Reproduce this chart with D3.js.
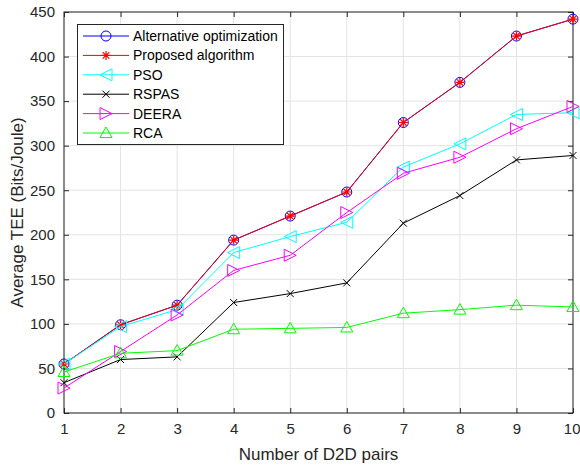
<!DOCTYPE html>
<html><head><meta charset="utf-8">
<script src="https://cdn.jsdelivr.net/npm/d3@7"></script>
<style>body{margin:0;background:#fff}svg{display:block}text{font-family:"Liberation Sans",Arial,Helvetica,sans-serif}</style>
</head><body><svg id="c" width="580" height="465"></svg>
<script>
const xValues = [1,2,3,4,5,6,7,8,9,10];
const altOpt   = [55, 99, 121, 194, 221, 248, 326, 371, 423, 442];
const proposed = [55, 99, 121, 194, 221, 248, 326, 371, 423, 442];
const pso      = [55, 97, 116, 180, 198, 214, 276, 302, 335, 337];
const rspas    = [34, 60, 63, 124, 134, 146, 213, 244, 284, 289];
const deera    = [28, 69, 110, 160, 177, 225, 269, 287, 319, 344];
const rca      = [46, 67, 70, 94, 95, 96, 112, 116, 121, 119];
const yTicks = [0,50,100,150,200,250,300,350,400,450];
const seriesNames = ["Alternative optimization","Proposed algorithm","PSO","RSPAS","DEERA","RCA"];
const seriesData = [altOpt, proposed, pso, rspas, deera, rca];
const seriesColors = ["#0000ff","#ff0000","#00ffff","#000000","#ff00ff","#00ff00"];
const seriesMarkers = ["circle","asterisk","triLeft","cross","triRight","triUp"];

const svg = d3.select("#c");
const L=64, R=573, T=12, B=413;
const x = d3.scaleLinear().domain([1,10]).range([L,R]);
const y = d3.scaleLinear().domain([0,450]).range([B,T]);

// grid
const g = svg.append("g");
g.selectAll(".gx").data(xValues).enter().append("line")
  .attr("x1",d=>x(d)).attr("x2",d=>x(d)).attr("y1",T).attr("y2",B)
  .attr("stroke","#e3e3e3").attr("stroke-width",1);
g.selectAll(".gy").data(yTicks).enter().append("line")
  .attr("y1",d=>y(d)).attr("y2",d=>y(d)).attr("x1",L).attr("x2",R)
  .attr("stroke","#e3e3e3").attr("stroke-width",1);

// axes
const ax = svg.append("g").attr("transform",`translate(0,${B})`)
  .call(d3.axisBottom(x).tickValues(xValues).tickSize(-5).tickPadding(10).tickFormat(d3.format("d")));
const axT = svg.append("g").attr("transform",`translate(0,${T})`)
  .call(d3.axisTop(x).tickValues(xValues).tickSize(-5).tickFormat(""));
const ay = svg.append("g").attr("transform",`translate(${L},0)`)
  .call(d3.axisLeft(y).tickValues(yTicks).tickSize(-5).tickPadding(9));
const ayR = svg.append("g").attr("transform",`translate(${R},0)`)
  .call(d3.axisRight(y).tickValues(yTicks).tickSize(-5).tickFormat(""));
[ax,axT,ay,ayR].forEach(a=>{
  a.select(".domain").attr("stroke","#262626").attr("stroke-width",1);
  a.selectAll(".tick line").attr("stroke","#262626");
  a.selectAll("text").attr("fill","#262626").style("font-size","15px").style("font-family","'Liberation Sans',Arial,sans-serif");
});
// keep the last x tick label inside the window
ax.selectAll(".tick text").filter(d=>d===10).attr("text-anchor","end").attr("x",7);
svg.selectAll(".domain").remove();
svg.append("rect").attr("x",L).attr("y",T).attr("width",R-L).attr("height",B-T)
  .attr("fill","none").attr("stroke","#262626").attr("stroke-width",1);

svg.append("text").attr("x",(L+R)/2).attr("y",460).attr("text-anchor","middle")
  .attr("fill","#262626").style("font-size","17px").text("Number of D2D pairs");
svg.append("text").attr("transform",`translate(23,${(T+B)/2}) rotate(-90)`).attr("text-anchor","middle")
  .attr("fill","#262626").style("font-size","17px").text("Average TEE (Bits/Joule)");

function drawMarker(sel, type, color, cx, cy){
  const s = 6;
  if(type==="circle"){
    sel.append("circle").attr("cx",cx).attr("cy",cy).attr("r",5).attr("fill","none").attr("stroke",color).attr("stroke-width",1);
  } else if(type==="asterisk"){
    const a=4.5, b=3.3;
    const p=`M${cx-a},${cy}L${cx+a},${cy}M${cx},${cy-a}L${cx},${cy+a}M${cx-b},${cy-b}L${cx+b},${cy+b}M${cx-b},${cy+b}L${cx+b},${cy-b}`;
    sel.append("path").attr("d",p).attr("stroke",color).attr("stroke-width",1.2).attr("fill","none");
  } else if(type==="cross"){
    const b=3.5;
    sel.append("path").attr("d",`M${cx-b},${cy-b}L${cx+b},${cy+b}M${cx-b},${cy+b}L${cx+b},${cy-b}`).attr("stroke",color).attr("stroke-width",1).attr("fill","none");
  } else {
    let pts;
    if(type==="triLeft") pts=[[cx-s,cy],[cx+s,cy-s],[cx+s,cy+s]];
    if(type==="triRight") pts=[[cx+s,cy],[cx-s,cy-s],[cx-s,cy+s]];
    if(type==="triUp") pts=[[cx,cy-s],[cx-s,cy+s*0.75],[cx+s,cy+s*0.75]];
    sel.append("path").attr("d","M"+pts.map(p=>p.join(",")).join("L")+"Z").attr("fill","none").attr("stroke",color).attr("stroke-width",1);
  }
}

const line = d3.line().x((d,i)=>x(xValues[i])).y(d=>y(d));
seriesData.forEach((arr,k)=>{
  const sg = svg.append("g");
  sg.append("path").datum(arr).attr("d",line).attr("fill","none").attr("stroke",seriesColors[k]).attr("stroke-width",1);
  arr.forEach((v,i)=>drawMarker(sg, seriesMarkers[k], seriesColors[k], x(xValues[i]), y(v)));
});

// legend
const lg = svg.append("g");
lg.append("rect").attr("x",77.5).attr("y",24.5).attr("width",206).attr("height",120)
  .attr("fill","#fff").attr("stroke","#262626").attr("stroke-width",1);
seriesNames.forEach((n,k)=>{
  const yy = 36 + k*19.4;
  lg.append("line").attr("x1",83).attr("x2",129).attr("y1",yy).attr("y2",yy).attr("stroke",seriesColors[k]).attr("stroke-width",1);
  drawMarker(lg, seriesMarkers[k], seriesColors[k], 106, yy);
  lg.append("text").attr("x",133).attr("y",yy+5).attr("fill","#000").style("font-size","14px").text(n);
});
</script></body></html>
